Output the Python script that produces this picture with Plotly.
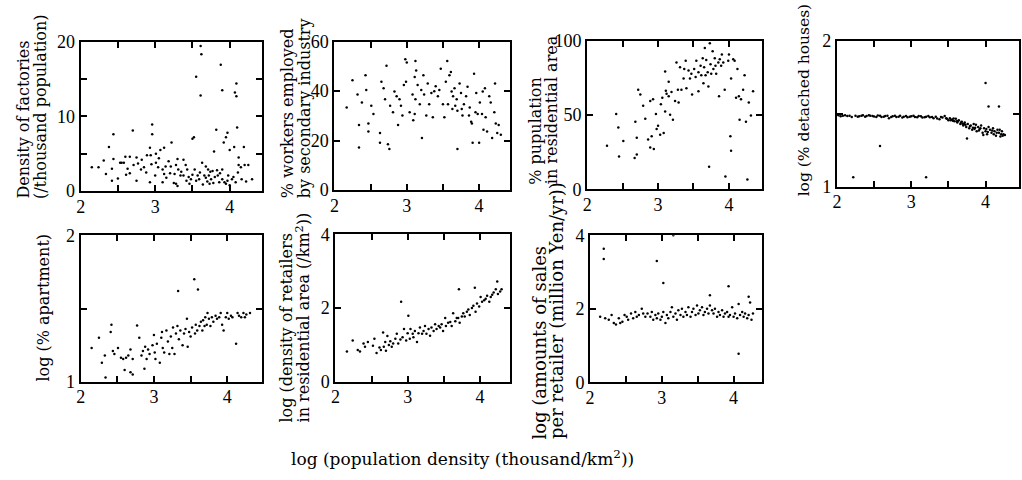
import plotly.graph_objects as go

# ---------------- data ----------------
p1_pts = [(2.15,3.2),(2.24,3.2),(2.31,4.1),(2.34,2.3),(2.38,5.9),(2.42,1.4),(2.44,7.6),(2.44,4.3),(2.42,3.0),
          (2.53,3.8),(2.55,3.8),(2.61,2.2),(2.63,3.0),(2.60,4.6),(2.66,4.6),(2.70,8.1),(2.71,3.5),(2.75,1.4),
          (2.81,2.9),(2.75,4.5),(2.82,4.2),(2.85,3.2),(2.89,4.8),(2.93,5.8),(2.94,4.8),(2.96,8.9),(2.96,7.6),
          (2.93,1.2),(3.01,5.0),(3.01,3.8),(3.04,3.2),(3.07,5.5),(3.10,2.9),(3.12,2.3),(3.14,3.3),(3.18,4.0),
          (3.21,3.3),(3.22,6.5),(3.26,2.3),(3.28,1.0),(3.30,4.3),(3.31,2.9),(3.34,2.1),(3.38,2.1),(3.41,3.5),
          (3.43,2.9),(3.46,1.0),(3.48,1.6),(3.50,7.0),(3.52,7.2),(3.55,15.3),(3.53,2.9),(3.57,2.1),(3.59,1.6),
          (3.61,19.4),(3.62,18.3),(3.61,12.8),(3.63,3.8),(3.66,2.1),(3.68,1.8),(3.68,3.3),(3.71,2.9),(3.72,2.1),
          (3.73,1.0),(3.75,1.6),(3.77,2.7),(3.79,5.3),(3.82,8.2),(3.84,2.1),(3.86,1.2),(3.88,16.9),(3.90,13.5),
          (3.90,2.9),(3.92,6.5),(3.93,1.2),(3.95,7.2),(3.97,7.8),(3.98,2.1),(4.00,5.5),(4.03,1.6),(4.06,5.9),
          (4.07,13.2),(4.09,12.7),(4.09,14.4),(4.10,8.5),(4.11,2.5),(4.12,3.5),(4.16,1.6),(4.19,5.9),(4.20,3.5),
          (3.15,1.8),(3.20,2.4),(3.25,1.1),(3.35,2.6),(3.45,1.9),(3.50,2.2),(3.55,1.4),(3.60,2.5),(3.64,0.9),
          (3.70,1.3),(3.74,2.6),(3.78,1.1),(3.80,1.9),(3.83,2.8),(3.87,2.4),(3.90,1.6),(3.95,1.0),(3.97,1.4),
          (4.00,0.8),(4.05,1.9),(4.08,1.2),(4.12,4.5),(4.15,3.2),(4.22,1.3),(4.25,3.5),(4.30,1.6),(3.00,2.1),
          (2.95,3.6),(2.88,2.5),(2.77,3.7),(2.66,2.4),(2.58,3.8),(2.50,1.7),(3.05,4.4),(3.12,5.8),(3.28,3.5),
          (3.38,4.2),(3.10,1.2),(3.30,0.7),(3.42,1.4)]

p2_pts = [(2.17,33.4),(2.25,44.4),(2.32,38.6),(2.34,26.3),(2.34,17.2),(2.38,35.4),(2.43,46.4),(2.44,40.5),
          (2.47,26.9),(2.47,23.7),(2.51,34.1),(2.54,30.8),(2.63,23.1),(2.63,19.2),(2.65,43.8),(2.68,41.2),
          (2.70,36.7),(2.72,50.3),(2.74,18.5),(2.76,16.6),(2.77,34.1),(2.81,31.5),(2.83,39.9),(2.86,37.9),
          (2.88,26.3),(2.90,36.7),(2.92,34.1),(2.94,30.2),(2.96,42.5),(2.98,52.9),(3.00,51.6),(2.99,43.8),
          (3.04,31.5),(3.08,38.6),(3.09,28.2),(3.11,30.8),(3.11,45.7),(3.12,52.2),(3.12,36.7),(3.13,48.3),
          (3.15,42.5),(3.18,34.7),(3.20,40.5),(3.21,21.1),(3.23,46.4),(3.24,38.6),(3.27,30.2),(3.29,43.1),
          (3.31,34.7),(3.34,39.3),(3.36,29.5),(3.38,40.0),(3.40,42.0),(3.43,37.9),(3.45,40.5),(3.47,49.0),
          (3.50,34.7),(3.52,29.5),(3.54,43.8),(3.56,52.2),(3.57,34.7),(3.59,46.4),(3.61,47.7),(3.62,39.9),
          (3.63,32.8),(3.64,37.9),(3.66,41.2),(3.67,34.1),(3.69,36.7),(3.70,16.6),(3.70,32.1),(3.73,43.1),
          (3.75,39.3),(3.76,32.8),(3.77,30.2),(3.79,34.7),(3.82,37.9),(3.84,41.8),(3.86,30.2),(3.87,33.4),
          (3.89,27.6),(3.90,26.9),(3.91,19.2),(3.93,47.0),(3.95,31.5),(3.96,39.3),(3.98,30.8),(4.00,19.2),
          (4.01,35.4),(4.04,30.8),(4.05,39.9),(4.06,24.4),(4.08,41.2),(4.09,29.5),(4.11,23.7),(4.14,37.9),
          (4.16,35.4),(4.18,21.1),(4.21,31.5),(4.22,43.1),(4.23,26.9),(4.25,23.1),(4.27,26.3),(4.30,22.4)]

p3_pts = [(2.28,29.2),(2.41,50.6),(2.44,41.5),(2.45,22.0),(2.51,32.4),(2.68,45.4),(2.67,21.0),(2.70,23.3),
          (2.70,34.6),(2.72,67.0),(2.75,63.7),(2.79,56.2),(2.82,47.5),(2.86,33.5),(2.89,59.4),(2.89,28.1),
          (2.91,35.6),(2.93,60.5),(2.94,27.0),(2.97,50.6),(2.98,40.6),(3.00,42.8),(3.03,36.7),(3.04,57.2),
          (3.06,61.6),(3.08,37.8),(3.10,52.3),(3.10,79.2),(3.11,66.3),(3.12,64.3),(3.15,72.4),(3.15,62.6),
          (3.17,50.1),(3.19,65.4),(3.21,46.8),(3.24,59.4),(3.26,85.3),(3.28,67.0),(3.29,58.3),(3.31,82.1),
          (3.33,67.0),(3.36,74.5),(3.37,81.0),(3.39,86.4),(3.40,68.0),(3.43,79.9),(3.45,74.5),(3.47,77.8),
          (3.48,63.7),(3.51,81.0),(3.53,75.6),(3.54,86.4),(3.57,65.9),(3.57,78.8),(3.60,83.2),(3.61,76.7),
          (3.63,88.1),(3.64,71.3),(3.65,82.1),(3.66,95.0),(3.67,76.7),(3.68,87.0),(3.70,78.8),(3.71,69.1),
          (3.72,15.1),(3.73,98.3),(3.74,84.2),(3.75,77.8),(3.77,92.8),(3.78,81.0),(3.80,88.1),(3.81,83.2),
          (3.82,77.8),(3.85,85.3),(3.86,62.6),(3.87,87.5),(3.89,83.2),(3.90,90.7),(3.92,85.3),(3.94,67.0),
          (3.95,8.6),(3.99,86.4),(4.00,90.7),(4.02,35.6),(4.03,25.9),(4.03,74.5),(4.06,87.5),(4.08,86.4),
          (4.10,61.6),(4.12,81.0),(4.14,62.6),(4.15,46.8),(4.17,60.5),(4.20,67.0),(4.22,76.7),(4.24,45.4),
          (4.26,6.5),(4.28,58.3),(4.31,49.6),(4.34,65.9)]

p4_pts = [(2.02,1.490),(2.08,1.487),(2.14,1.484),(2.20,1.478),(2.25,1.486),(2.30,1.482),(2.35,1.490),
          (2.40,1.485),(2.45,1.487),(2.50,1.481),(2.55,1.488),(2.60,1.478),(2.65,1.484),(2.70,1.470),
          (2.75,1.482),(2.80,1.478),(2.85,1.486),(2.90,1.480),(2.95,1.476),(3.00,1.483),(3.05,1.478),
          (3.10,1.485),(3.15,1.474),(3.20,1.480),(3.25,1.476),(3.30,1.470),(3.33,1.480),(3.38,1.462),
          (3.42,1.474),(3.45,1.485),(3.48,1.466),(3.50,1.455),(3.52,1.470),(3.55,1.460),(3.58,1.448),
          (3.60,1.465),(3.62,1.440),(3.64,1.455),(3.66,1.430),(3.68,1.445),(3.70,1.420),(3.72,1.440),
          (3.74,1.410),(3.76,1.430),(3.78,1.400),(3.80,1.420),(3.82,1.390),(3.84,1.430),(3.86,1.405),
          (3.88,1.380),(3.90,1.410),(3.92,1.395),(3.94,1.420),(3.96,1.370),(3.98,1.400),(4.00,1.380),
          (4.02,1.360),(4.04,1.410),(4.06,1.390),(4.08,1.370),(4.10,1.400),(4.12,1.380),(4.14,1.350),
          (4.16,1.390),(4.18,1.370),(4.20,1.345),(4.22,1.380),(4.24,1.360),(4.26,1.355),
          (2.22,1.066),(2.58,1.280),(3.20,1.066),(4.04,1.550),(4.00,1.710),(4.18,1.550),(3.75,1.330),
          (3.56,1.452),(3.61,1.448),(3.69,1.432),(3.73,1.425),(3.83,1.405),(3.91,1.385),(4.01,1.395),
          (4.11,1.360),(4.19,1.390),(3.87,1.425),(3.97,1.355),
          (2.05,1.482),(2.11,1.490),(2.17,1.486),(2.28,1.479),(2.33,1.486),(2.38,1.480),(2.43,1.490),
          (2.48,1.484),(2.53,1.477),(2.58,1.486),(2.63,1.480),(2.68,1.486),(2.73,1.478),(2.78,1.486),
          (2.83,1.480),(2.88,1.475),(2.93,1.484),(2.98,1.479),(3.03,1.486),(3.08,1.476),(3.13,1.482),
          (3.18,1.476),(3.23,1.484),(3.28,1.478),(3.35,1.468),(3.40,1.478),(3.47,1.470),(3.53,1.455),
          (3.57,1.468),(3.63,1.450),(3.67,1.440),(3.71,1.430),(3.79,1.415),(3.85,1.395),(3.93,1.400),
          (4.03,1.375),(4.09,1.385),(4.15,1.370),(4.21,1.360),(4.23,1.350)]

p5_pts = [(2.15,1.23),(2.25,1.30),(2.29,1.13),(2.33,1.18),(2.34,1.03),(2.41,1.34),(2.42,1.39),(2.44,1.21),
          (2.46,1.19),(2.51,1.23),(2.55,1.165),(2.58,1.155),(2.60,1.08),(2.62,1.165),(2.65,1.18),(2.68,1.22),
          (2.68,1.066),(2.71,1.05),(2.71,1.155),(2.77,1.385),(2.80,1.30),(2.83,1.18),(2.85,1.21),(2.87,1.09),
          (2.88,1.24),(2.90,1.155),(2.92,1.22),(2.94,1.19),(2.98,1.25),(3.00,1.32),(3.01,1.20),(3.02,1.155),
          (3.04,1.26),(3.08,1.13),(3.10,1.30),(3.11,1.34),(3.12,1.23),(3.14,1.20),(3.17,1.35),(3.19,1.275),
          (3.21,1.19),(3.23,1.31),(3.25,1.23),(3.26,1.37),(3.28,1.19),(3.30,1.33),(3.32,1.38),(3.33,1.62),
          (3.34,1.29),(3.36,1.35),(3.39,1.25),(3.41,1.33),(3.43,1.36),(3.45,1.43),(3.46,1.24),(3.48,1.34),
          (3.50,1.31),(3.52,1.37),(3.55,1.70),(3.56,1.33),(3.57,1.39),(3.59,1.35),(3.60,1.63),(3.62,1.38),
          (3.64,1.41),(3.66,1.35),(3.67,1.42),(3.69,1.38),(3.70,1.44),(3.72,1.39),(3.73,1.47),(3.75,1.43),
          (3.77,1.38),(3.79,1.44),(3.81,1.41),(3.84,1.45),(3.86,1.43),(3.89,1.44),(3.91,1.47),(3.93,1.39),
          (3.95,1.35),(3.98,1.44),(4.00,1.47),(4.02,1.43),(4.05,1.45),(4.07,1.44),(4.12,1.26),(4.14,1.47),
          (4.16,1.45),(4.19,1.44),(4.22,1.47),(4.24,1.44),(4.26,1.46),(4.31,1.47)]

p6_pts = [(2.16,0.82),(2.24,1.12),(2.31,0.86),(2.34,0.82),(2.39,1.04),(2.41,0.95),(2.45,1.08),(2.52,0.98),
          (2.54,1.17),(2.57,0.78),(2.61,0.93),(2.63,0.86),(2.66,1.34),(2.67,0.95),(2.69,1.08),(2.70,0.84),
          (2.72,1.24),(2.74,1.00),(2.76,1.10),(2.78,0.95),(2.80,1.04),(2.83,1.17),(2.85,1.30),(2.87,1.04),
          (2.90,1.15),(2.91,2.17),(2.93,1.21),(2.95,1.43),(2.98,1.12),(3.00,1.32),(3.01,1.79),(3.03,1.17),
          (3.04,1.43),(3.07,1.30),(3.08,1.21),(3.10,1.38),(3.13,1.08),(3.15,1.32),(3.17,1.47),(3.20,1.30),
          (3.22,1.38),(3.24,1.51),(3.26,1.30),(3.29,1.43),(3.31,1.25),(3.33,1.47),(3.36,1.38),(3.38,1.56),
          (3.40,1.43),(3.43,1.51),(3.45,1.47),(3.47,1.56),(3.49,1.38),(3.52,1.73),(3.53,1.51),(3.56,1.60),
          (3.59,1.62),(3.61,1.51),(3.63,1.86),(3.66,1.64),(3.68,1.73),(3.70,1.73),(3.71,2.51),(3.72,1.60),
          (3.75,1.77),(3.77,1.86),(3.79,1.77),(3.82,1.90),(3.84,1.96),(3.86,1.81),(3.89,2.00),(3.91,2.06),
          (3.93,2.55),(3.94,1.90),(3.96,2.12),(3.99,2.04),(4.01,2.30),(4.03,2.17),(4.06,2.21),(4.08,2.25),
          (4.10,2.33),(4.13,2.17),(4.15,2.30),(4.17,2.36),(4.19,2.42),(4.22,2.51),(4.24,2.72),(4.25,2.38),
          (4.28,2.45),(4.30,2.51)]

p7_pts = [(2.19,3.63),(2.19,3.35),(2.93,3.30),(3.02,2.70),(3.16,4.00),(3.93,2.61),(4.07,0.78),(3.67,2.37),
          (4.21,2.33),(2.14,1.78),(2.21,1.74),(2.26,1.70),(2.30,1.83),(2.33,1.61),(2.36,1.57),(2.40,1.74),
          (2.42,1.61),(2.45,1.65),(2.48,1.83),(2.51,1.78),(2.53,1.70),(2.57,1.87),(2.60,1.74),(2.63,1.91),
          (2.65,1.78),(2.68,1.83),(2.72,2.00),(2.74,1.87),(2.77,1.78),(2.80,1.87),(2.84,1.78),(2.86,1.91),
          (2.88,1.70),(2.91,1.83),(2.93,1.74),(2.95,1.87),(2.98,1.70),(3.00,1.78),(3.02,1.91),(3.05,1.61),
          (3.07,1.83),(3.09,1.74),(3.12,1.91),(3.14,2.04),(3.16,1.78),(3.19,1.87),(3.21,1.70),(3.23,1.96),
          (3.26,1.83),(3.28,2.00),(3.30,1.78),(3.33,1.91),(3.35,1.83),(3.37,2.04),(3.40,1.78),(3.42,1.91),
          (3.44,2.00),(3.47,1.83),(3.49,2.09),(3.51,1.87),(3.53,1.96),(3.56,2.04),(3.58,1.83),(3.60,1.91),
          (3.63,2.00),(3.65,1.87),(3.67,2.09),(3.70,1.96),(3.72,1.87),(3.74,2.00),(3.77,1.78),(3.79,1.91),
          (3.81,1.83),(3.84,1.96),(3.86,1.78),(3.88,1.87),(3.91,1.91),(3.93,1.78),(3.95,1.83),(3.98,2.04),
          (4.00,1.78),(4.02,1.87),(4.05,1.74),(4.07,2.13),(4.09,1.83),(4.12,1.91),(4.14,1.78),(4.16,1.87),
          (4.19,1.74),(4.21,1.83),(4.23,2.17),(4.25,1.70),(4.27,1.87)]

x_major = [2, 3, 4]
x_minor = [2.5, 3.5]

y_major = [[0, 10, 20], [0, 20, 40, 60], [0, 50, 100], [1, 2], [1, 2], [0, 2, 4], [0, 2, 4]]
y_minor = [[5, 15], [], [], [1.5], [1.5], [], []]
y_ranges = [[0, 20], [0, 60], [0, 100], [1, 2], [1, 2], [0, 4], [0, 4]]

y_titles = [
    ["Density of factories", "(/thousand population)"],
    ["% workers employed", "by secondary industry"],
    ["% pupulation", "in residential area"],
    ["log (% detached houses)"],
    ["log (% apartment)"],
    ["log (density of retailers", "in residential area (/km<sup>2</sup>))"],
    ["log (amounts of sales", "per retailer (million Yen/yr))"],
]
x_title = "log (population density (thousand/km<sup>2</sup>))"

all_pts = [p1_pts, p2_pts, p3_pts, p4_pts, p5_pts, p6_pts, p7_pts]

# ---------------- layout (pixels) ----------------
W, H = 1022, 480
# (left, right, top, bottom) in px, x range end
boxes = [
    (76, 258, 33, 189, 4.43),
    (331, 507, 33, 188, 4.42),
    (585, 761, 32, 187, 4.47),
    (836, 1019, 32, 184.5, 4.45),
    (76, 258, 235, 388, 4.47),
    (332, 507, 234, 388, 4.41),
    (588, 761, 235, 388.5, 4.40),
]
# title lines: (x centre px, bottom px, size)
title_pos = [
    [(19, 199, 16), (35, 199, 16)],
    [(284, 199, 16), (301, 199, 16)],
    [(533, 184, 16), (550, 184, 16)],
    [(803, 197, 15.5)],
    [(39, 390, 16)],
    [(283, 433, 16), (300, 433, 16)],
    [(537, 450, 18), (554, 450, 18)],
]

TICKFONT = "Liberation Serif"
TITLEFONT = "DejaVu Serif"
fig = go.Figure()
layout = dict(width=W, height=H, margin=dict(l=0, r=0, t=0, b=0),
              paper_bgcolor="white", plot_bgcolor="white", showlegend=False,
              font=dict(family=TICKFONT, color="black"))
annotations = []

for i, pts in enumerate(all_pts):
    n = i + 1
    xs = [p[0] for p in pts]
    ys = [p[1] for p in pts]
    xa = "x" if n == 1 else f"x{n}"
    ya = "y" if n == 1 else f"y{n}"
    fig.add_trace(go.Scatter(x=xs, y=ys, mode="markers", xaxis=xa, yaxis=ya,
                             marker=dict(size=2.5, color="black", line=dict(width=0)),
                             hoverinfo="skip"))
    l, r, t, b, xend = boxes[i]
    common = dict(showline=True, linewidth=2, linecolor="black", mirror="ticks",
                  ticks="inside", ticklen=6, tickwidth=1.5, tickcolor="black",
                  showgrid=False, zeroline=False,
                  tickfont=dict(family=TICKFONT, size=18, color="black"))
    layout[f"xaxis{n}"] = dict(domain=[l / W, r / W], range=[2, xend], anchor=ya,
                               tickmode="array", tickvals=x_major,
                               ticktext=[str(v) for v in x_major],
                               minor=dict(tickmode="array", tickvals=x_minor, ticks="inside",
                                          ticklen=6, tickwidth=1.5, tickcolor="black", showgrid=False),
                               ticklabelstandoff=-2, **common)
    minor_y = dict(tickmode="array", tickvals=y_minor[i], ticks="inside",
                   ticklen=6, tickwidth=1.5, tickcolor="black", showgrid=False)
    layout[f"yaxis{n}"] = dict(domain=[1 - b / H, 1 - t / H], range=y_ranges[i], anchor=xa,
                               tickmode="array", tickvals=y_major[i],
                               ticktext=[str(v) for v in y_major[i]],
                               minor=minor_y, ticklabelstandoff=0, **common)
    for txt, (cx, by, fs) in zip(y_titles[i], title_pos[i]):
        annotations.append(dict(text=txt, xref="paper", yref="paper", x=cx / W, y=1 - by / H,
                                xanchor="center", yanchor="bottom", textangle=-90,
                                showarrow=False, font=dict(family=TITLEFONT, size=fs, color="black")))

annotations.append(dict(text=x_title, xref="paper", yref="paper", x=460 / W, y=1 - 467 / H,
                        xanchor="center", yanchor="middle", showarrow=False,
                        font=dict(family=TITLEFONT, size=17, color="black")))
layout["annotations"] = annotations
fig.update_layout(**layout)
fig.write_html("out.html")
